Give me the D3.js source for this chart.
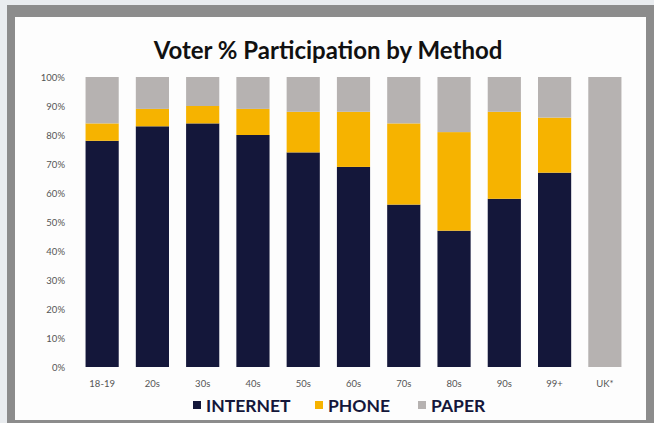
<!DOCTYPE html>
<html lang="en">
<head>
  <meta charset="UTF-8" />
  <script src="https://d3js.org/d3.v7.min.js"></script>
  <title>Voter % Participation by Method</title>
  <style>
    body { margin:0; background:#fff; }
  </style>
</head>
<body>
<script type="text/javascript">
var categories = ["18-19","20s","30s","40s","50s","60s","70s","80s","90s","99+","UK*"];
var internet = [78, 83, 84, 80, 74, 69, 56, 47, 58, 67, 0];
var phone    = [ 6,  6,  6,  9, 14, 19, 28, 34, 30, 19, 0];
var paper    = [16, 11, 10, 11, 12, 12, 16, 19, 12, 14, 100];
var seriesNames = ["INTERNET", "PHONE", "PAPER"];
var yTicks = [0,10,20,30,40,50,60,70,80,90,100];

var colors = {INTERNET:"#14173a", PHONE:"#f6b300", PAPER:"#b6b2b1"};
var W = 654, H = 423;

var svg = d3.select("body").append("svg").attr("width", W).attr("height", H);

// photographed frame
svg.append("rect").attr("x",0).attr("y",0).attr("width",W).attr("height",H).attr("fill","#e9ecef");
svg.append("rect").attr("x",7).attr("y",5).attr("width",647).attr("height",418).attr("fill","#8c8c8c");
svg.append("rect").attr("x",15).attr("y",17).attr("width",631).attr("height",403).attr("fill","#fdfdfd");

var rows = categories.map(function(c, i){
  return {cat:c, INTERNET:internet[i], PHONE:phone[i], PAPER:paper[i]};
});
var stack = d3.stack().keys(seriesNames)(rows);

var x = d3.scaleBand().domain(categories).range([77, 630]).paddingInner(0.34).paddingOuter(0.17);
var y = d3.scaleLinear().domain([0,100]).range([367, 77]);

svg.append("text").attr("x", 328).attr("y", 59).attr("text-anchor","middle")
  .attr("font-family","Lato, 'Open Sans', sans-serif").attr("font-weight","bold")
  .attr("font-size", 24).attr("fill","#111").text("Voter % Participation by Method");

svg.append("g").selectAll("g").data(stack).enter().append("g")
  .attr("fill", function(d){ return colors[d.key]; })
  .selectAll("rect").data(function(d){ return d; }).enter().append("rect")
  .attr("x", function(d){ return x(d.data.cat); })
  .attr("y", function(d){ return y(d[1]); })
  .attr("width", x.bandwidth())
  .attr("height", function(d){ return y(d[0]) - y(d[1]); });

var yAxis = svg.append("g").attr("transform","translate(77,0)")
  .call(d3.axisLeft(y).tickValues(yTicks).tickSize(0).tickPadding(12).tickFormat(function(d){ return d + "%"; }));
yAxis.select(".domain").remove();
yAxis.selectAll("text").attr("font-family","Lato, sans-serif").attr("font-size", 9.5).attr("fill","#555");

var xAxis = svg.append("g").attr("transform","translate(0,367)")
  .call(d3.axisBottom(x).tickSize(0).tickPadding(13));
xAxis.select(".domain").remove();
xAxis.selectAll("text").attr("font-family","Lato, sans-serif").attr("font-size", 9.5).attr("fill","#555");

// legend
var legendX = [193, 315, 418];
var lg = svg.append("g").selectAll("g").data(seriesNames).enter().append("g")
  .attr("transform", function(d, i){ return "translate(" + legendX[i] + ",405)"; });
lg.append("rect").attr("x",0).attr("y",-4).attr("width",8).attr("height",8)
  .attr("fill", function(d){ return colors[d]; });
lg.append("text").attr("x",13).attr("y",6.5)
  .attr("font-family","Lato, 'Open Sans', sans-serif").attr("font-weight","bold")
  .attr("font-size",17.5).attr("fill","#14173a").text(function(d){ return d; });
</script>
</body>
</html>
